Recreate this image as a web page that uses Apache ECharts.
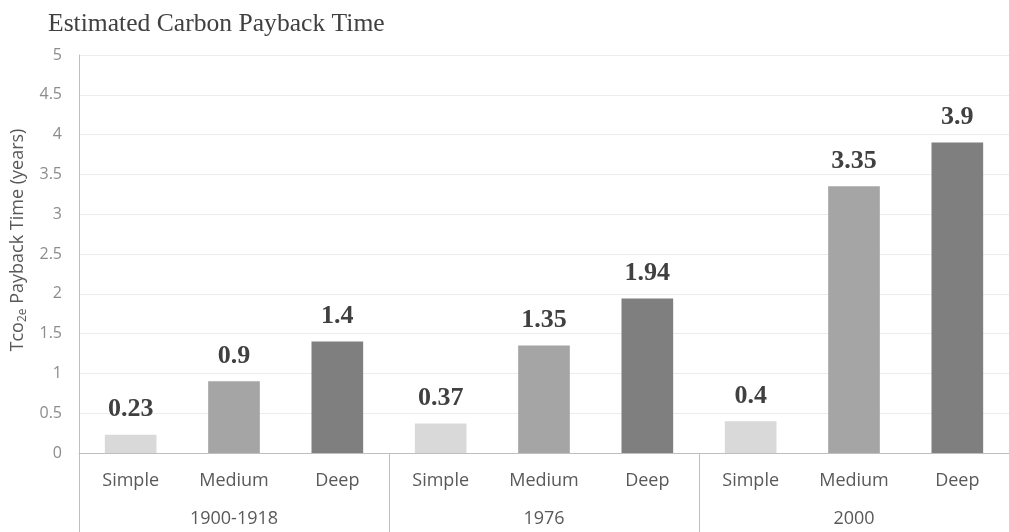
<!DOCTYPE html>
<html>
<head>
<meta charset="utf-8">
<script src="https://cdn.jsdelivr.net/npm/echarts@6/dist/echarts.min.js"></script>
<style>
  html, body { margin: 0; padding: 0; background: #ffffff; }
  #chart { width: 1009px; height: 532px; }
</style>
</head>
<body>
<div id="chart"></div>
<script>
// Renovation levels and construction periods
const levels = ['Simple', 'Medium', 'Deep'];
const periods = ['1900-1918', '1976', '2000'];

// Payback time (years) per period, one array per renovation level
const simpleValues = [0.23, 0.37, 0.4];
const mediumValues = [0.9, 1.35, 3.35];
const deepValues = [1.4, 1.94, 3.9];

// Y axis ticks
const yMin = 0;
const yMax = 5;
const yStep = 0.5;

const levelColors = { Simple: '#d9d9d9', Medium: '#a5a5a5', Deep: '#7f7f7f' };
const valuesByLevel = { Simple: simpleValues, Medium: mediumValues, Deep: deepValues };

// Flatten into 9 categories: period-major, level-minor
const categories = [];
const barData = [];
periods.forEach((p, pi) => {
  levels.forEach(l => {
    categories.push(l);
    barData.push({ value: valuesByLevel[l][pi], itemStyle: { color: levelColors[l] } });
  });
});

const chart = echarts.init(document.getElementById('chart'));
chart.setOption({
  animation: false,
  backgroundColor: '#ffffff',
  title: {
    text: 'Estimated Carbon Payback Time',
    left: 43,
    top: 6,
    textStyle: {
      fontFamily: 'Liberation Serif',
      fontWeight: 'normal',
      fontSize: 25.6,
      color: '#404040'
    }
  },
  grid: { left: 79, right: -11, top: 55, bottom: 79, containLabel: false },
  xAxis: [
    {
      type: 'category',
      data: categories,
      position: 'bottom',
      axisLine: { show: true, lineStyle: { color: '#bfbfbf', width: 1 } },
      axisTick: { show: false },
      axisLabel: {
        margin: 19,
        fontFamily: 'Open Sans',
        fontSize: 18,
        color: '#595959'
      }
    },
    {
      type: 'category',
      data: periods,
      position: 'bottom',
      axisLine: { show: false },
      axisTick: { show: true, length: 82, lineStyle: { color: '#bfbfbf', width: 1 } },
      axisLabel: {
        margin: 57,
        fontFamily: 'Open Sans',
        fontSize: 18,
        color: '#595959'
      }
    }
  ],
  yAxis: {
    type: 'value',
    min: yMin,
    max: yMax,
    interval: yStep,
    name: '{a|Tco}{s|2e}{a| Payback Time (years)}',
    nameLocation: 'middle',
    nameRotate: 90,
    nameGap: 39,
    nameTextStyle: {
      padding: [0, 0, 0, 28],
      rich: {
        a: { fontFamily: 'Open Sans', fontSize: 18, color: '#595959' },
        s: { fontFamily: 'Open Sans', fontSize: 12, color: '#595959', verticalAlign: 'bottom', padding: [9, 0, 0, 0] }
      }
    },
    axisLine: { show: true, lineStyle: { color: '#bfbfbf', width: 1 } },
    axisTick: { show: false },
    axisLabel: {
      margin: 17,
      fontFamily: 'Open Sans',
      fontSize: 16,
      color: '#8c8c8c'
    },
    splitLine: { show: true, lineStyle: { color: '#ececec', width: 1 } }
  },
  series: [
    {
      type: 'bar',
      xAxisIndex: 0,
      data: barData,
      barWidth: '50%',
      label: {
        show: true,
        position: 'top',
        distance: 12,
        fontFamily: 'Liberation Serif',
        fontWeight: 'bold',
        fontSize: 26,
        color: '#404040'
      }
    }
  ]
});
</script>
</body>
</html>
